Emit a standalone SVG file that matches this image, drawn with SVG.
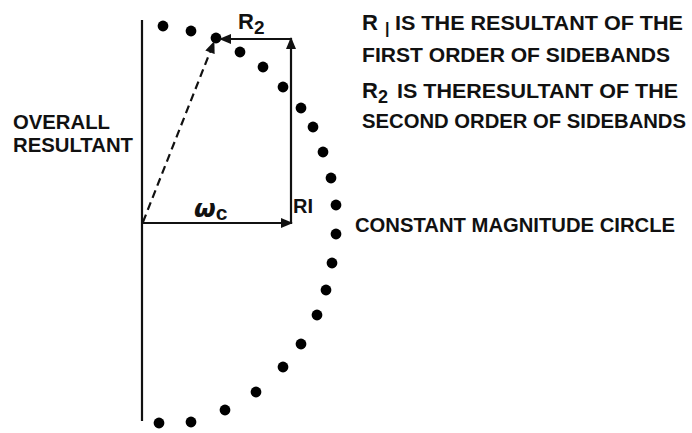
<svg xmlns="http://www.w3.org/2000/svg" width="692" height="433" viewBox="0 0 692 433">
<style>
.t{font-family:"Liberation Sans",Arial,sans-serif;font-weight:bold;fill:#111}
.ln{stroke:#111;stroke-width:2.2;fill:none}
.dot{fill:#000}
</style>
<defs>
<marker id="ah" viewBox="0 0 12 10" refX="11" refY="5" markerWidth="13" markerHeight="10" markerUnits="userSpaceOnUse" orient="auto">
<path d="M0,0 L12,5 L0,10 Z" fill="#111"/>
</marker>
</defs>
<rect width="692" height="433" fill="#fff"/>
<g id="axis">
<line class="ln" x1="142" y1="20" x2="142" y2="421"/>
</g>
<g id="circle">
<circle class="dot" cx="163" cy="26" r="5.4"/>
<circle class="dot" cx="191" cy="31" r="5.4"/>
<circle class="dot" cx="216" cy="38" r="5.4"/>
<circle class="dot" cx="240" cy="52" r="5.4"/>
<circle class="dot" cx="263" cy="67" r="5.4"/>
<circle class="dot" cx="283" cy="87" r="5.4"/>
<circle class="dot" cx="301" cy="108" r="5.4"/>
<circle class="dot" cx="313" cy="127" r="5.4"/>
<circle class="dot" cx="323" cy="152" r="5.4"/>
<circle class="dot" cx="331" cy="178" r="5.4"/>
<circle class="dot" cx="336" cy="205" r="5.4"/>
<circle class="dot" cx="336" cy="234" r="5.4"/>
<circle class="dot" cx="332" cy="263" r="5.4"/>
<circle class="dot" cx="326" cy="290" r="5.4"/>
<circle class="dot" cx="317" cy="315" r="5.4"/>
<circle class="dot" cx="301" cy="344" r="5.4"/>
<circle class="dot" cx="283" cy="367" r="5.4"/>
<circle class="dot" cx="256" cy="392" r="5.4"/>
<circle class="dot" cx="225" cy="410" r="5.4"/>
<circle class="dot" cx="191" cy="422" r="5.4"/>
<circle class="dot" cx="159" cy="423" r="5.4"/>
</g>
<g id="connectors">
<line class="ln" x1="142" y1="223" x2="292" y2="223" marker-end="url(#ah)"/>
<line class="ln" x1="291" y1="223" x2="291" y2="38" marker-end="url(#ah)"/>
<line class="ln" x1="291" y1="39" x2="220" y2="39" marker-end="url(#ah)"/>
<line class="ln" x1="143" y1="222" x2="214" y2="42" stroke-dasharray="8,5" marker-end="url(#ah)"/>
</g>
<g id="labels">
<text class="t" x="238" y="29" style="font-size:22px">R<tspan style="font-size:19px" dy="5">2</tspan></text>
<text class="t" x="194" y="217" style="font-size:25px;font-weight:bold;font-style:italic;font-family:'DejaVu Sans',sans-serif">ω<tspan style="font-size:21px;font-style:normal;font-family:'Liberation Sans',sans-serif" dy="3">c</tspan></text>
<text class="t" x="293" y="213" style="font-size:21px" textLength="20" lengthAdjust="spacingAndGlyphs">RI</text>
<text class="t" x="13" y="129" style="font-size:20px" textLength="97" lengthAdjust="spacingAndGlyphs">OVERALL</text>
<text class="t" x="13" y="152" style="font-size:20px" textLength="120" lengthAdjust="spacingAndGlyphs">RESULTANT</text>
<text class="t" x="355" y="232" style="font-size:20px" textLength="320" lengthAdjust="spacingAndGlyphs">CONSTANT MAGNITUDE CIRCLE</text>
</g>
<g id="legend">
<text class="t" x="362" y="30" style="font-size:22px">R</text>
<text class="t" x="385" y="34" style="font-size:16px">|</text>
<text class="t" x="395" y="30" style="font-size:21px" textLength="288" lengthAdjust="spacingAndGlyphs">IS THE RESULTANT OF THE</text>
<text class="t" x="362" y="62" style="font-size:21px" textLength="308" lengthAdjust="spacingAndGlyphs">FIRST ORDER OF SIDEBANDS</text>
<text class="t" x="362" y="98" style="font-size:22px">R<tspan style="font-size:18px" dy="5">2</tspan></text>
<text class="t" x="397" y="98" style="font-size:21px" textLength="281" lengthAdjust="spacingAndGlyphs">IS THERESULTANT OF THE</text>
<text class="t" x="362" y="128" style="font-size:20px" textLength="324" lengthAdjust="spacingAndGlyphs">SECOND ORDER OF SIDEBANDS</text>
</g>
</svg>
